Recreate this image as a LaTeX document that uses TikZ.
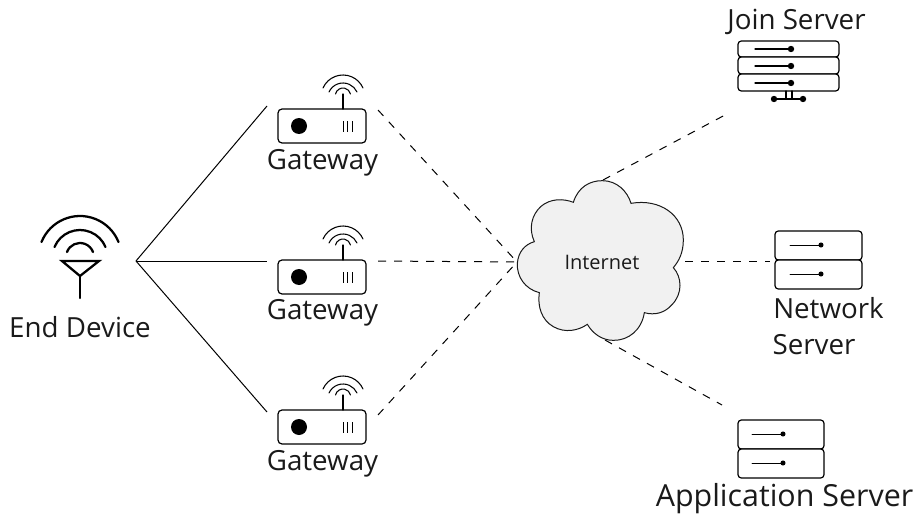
\documentclass[tikz,border=0pt]{standalone}
\usepackage{fontspec}
\setmainfont{Open Sans}
\definecolor{cloudfill}{HTML}{F1F1F1}
\definecolor{ink}{HTML}{1A1A1A}
\newcommand{\lblfont}[1]{\fontsize{#1}{#1}\selectfont}
% circular arc: centre x, end y, half chord, sagitta, style
\newcommand{\wifiarc}[5]{%
  \pgfmathsetmacro{\wr}{((#3)*(#3)+(#4)*(#4))/(2*(#4))}%
  \pgfmathsetmacro{\wt}{2*atan((#4)/(#3))}%
  \draw[#5] (#1-#3,#2) arc[start angle=-90-\wt,end angle=-90+\wt,radius=\wr];}
\tikzset{
  x=0.75pt,y=-0.75pt,
  iconline/.style={draw=black,line width=1.05pt,line cap=round,line join=round},
  heavyicon/.style={draw=black,line width=1.7pt,line cap=round,line join=miter},
  thinicon/.style={draw=black,line width=0.8pt,line cap=round,line join=round},
  link/.style={draw=black,line width=0.75pt},
  dlink/.style={draw=black,line width=0.75pt,dash pattern=on 6pt off 6pt},
  lbl/.style={text=ink,inner sep=0pt,align=center,font=\lblfont{20.8}},
  rowbox/.style={draw=black,line width=0.9pt,rounded corners=2.5pt,fill=white},
}
\newcommand{\gatewayicon}[2]{%
  \begin{scope}[shift={(#1,#2)}]
    \draw[rowbox,rounded corners=3pt] (278,109) rectangle (366,143);
    \fill[black] (299,126) circle[radius=6pt];
    \foreach \bx in {343,347.5,352}{\draw[line width=0.7pt] (\bx,121) -- (\bx,132);}
    \draw[thinicon] (343,109) -- (343,94);
    \wifiarc{343}{94}{7.5}{6}{thinicon}
    \wifiarc{343}{92}{14}{9}{thinicon}
    \wifiarc{343}{88}{20}{13}{thinicon}
  \end{scope}}
\begin{document}
\begin{tikzpicture}
\useasboundingbox (0,0) rectangle (914,517);
% anchor coordinates
\coordinate (ed) at (136,261);
\coordinate (g1w) at (267,106);
\coordinate (g2w) at (267,261);
\coordinate (g3w) at (267,412);
\coordinate (g1e) at (378,110);
\coordinate (g2e) at (378,261);
\coordinate (g3e) at (378,415);
\coordinate (cw) at (517,262);
\coordinate (cn) at (603,180);
\coordinate (ce) at (685,261);
\coordinate (cs) at (605,340);
\coordinate (js) at (725,115);
\coordinate (ns) at (770,261);
\coordinate (as) at (722,405);
% connectors
\draw[link] (ed) -- (g1w);
\draw[link] (ed) -- (g2w);
\draw[link] (ed) -- (g3w);
\draw[dlink] (g1e) -- (cw);
\draw[dlink] (g2e) -- (cw);
\draw[dlink] (g3e) -- (cw);
\draw[dlink] (cn) -- (js);
\draw[dlink] (ce) -- (ns);
\draw[dlink] (cs) -- (as);
% cloud
\begin{scope}[shift={(500,165)},x=0.25pt,y=-0.25pt]
\draw[fill=cloudfill,draw=ink,line width=0.75pt]
 (220,112) .. controls (235,65) and (270,47) .. (307,47)
 .. controls (350,47) and (382,78) .. (393,115)
 .. controls (480,100) and (550,150) .. (550,225)
 .. controls (550,265) and (535,290) .. (520,308)
 .. controls (545,335) and (550,385) .. (515,420)
 .. controls (495,443) and (465,452) .. (433,443)
 .. controls (425,495) and (385,527) .. (340,526)
 .. controls (305,526) and (278,505) .. (262,478)
 .. controls (235,497) and (195,505) .. (160,485)
 .. controls (125,465) and (112,425) .. (118,383)
 .. controls (75,372) and (50,335) .. (52,295)
 .. controls (55,260) and (75,238) .. (103,230)
 .. controls (85,190) and (95,150) .. (122,125)
 .. controls (150,100) and (190,100) .. (220,112) -- cycle;
\end{scope}
\node[lbl,font=\lblfont{15}] (internet) at (602,262) {Internet};
% end device
\wifiarc{80}{252}{13}{9}{heavyicon}
\wifiarc{80}{247}{25.5}{17}{heavyicon}
\wifiarc{80}{242}{38.5}{26}{heavyicon}
\draw[heavyicon] (62,261) -- (99,261) -- (80,276) -- cycle;
\draw[heavyicon] (80,276) -- (80,298);
\node[lbl] (edl) at (80,327) {End Device};
% gateways
\gatewayicon{0}{0}
\gatewayicon{0}{151}
\gatewayicon{0}{301}
\node[lbl] (gl1) at (322.5,163) {Gateway};
\node[lbl] (gl2) at (322.5,313) {Gateway};
\node[lbl] (gl3) at (322.5,464) {Gateway};
% join server
\foreach \ya/\yb in {41/57,57/74,74/91}{\draw[rowbox] (738,\ya) rectangle (839,\yb);}
\foreach \yy in {49,66,83}{\draw[iconline,line width=0.9pt] (755,\yy) -- (791,\yy); \fill (791,\yy) circle[radius=2.4pt];}
\draw[thinicon] (786,91) -- (786,99) (792,91) -- (792,99);
\draw[iconline,line width=0.9pt] (774,99) -- (803,99);
\fill (774,99) circle[radius=2.4pt] (803,99) circle[radius=2.4pt];
\node[lbl] (jl) at (796.5,22) {Join Server};
% network server
\draw[rowbox] (775,231) rectangle (862,260);
\draw[rowbox] (775,260) rectangle (862,289);
\foreach \yy in {245,274}{\draw[thinicon,line width=0.7pt] (790,\yy) -- (821,\yy); \fill (821,\yy) circle[radius=1.9pt];}
\node[lbl] (nl1) at (828.5,308) {Network};
\node[lbl] (nl2) at (814,345) {Server};
% application server
\draw[rowbox] (738,420) rectangle (824,449);
\draw[rowbox] (738,449) rectangle (824,478);
\foreach \yy in {434,463}{\draw[thinicon,line width=0.7pt] (752,\yy) -- (783,\yy); \fill (783,\yy) circle[radius=1.9pt];}
\node[lbl,font=\lblfont{22.8}] (al) at (784.5,499) {Application Server};
\end{tikzpicture}
\end{document}
